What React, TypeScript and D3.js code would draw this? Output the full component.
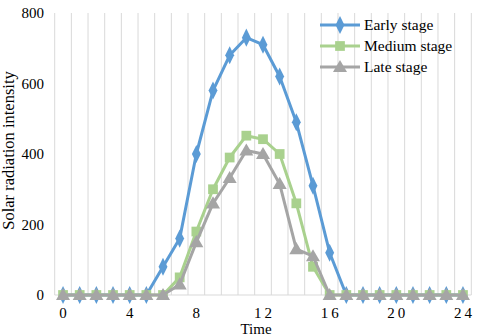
import React from "react";
import * as d3 from "d3";

const hours = d3.range(0, 25);
const xTickLabels = ["0", "4", "8", "12", "16", "20", "24"];
const xTickValues = [0, 4, 8, 12, 16, 20, 24];
const yTicks = [0, 200, 400, 600, 800];

const earlyStage = [0, 0, 0, 0, 0, 0, 80, 160, 400, 580, 680, 730, 710, 620, 490, 310, 120, 0, 0, 0, 0, 0, 0, 0, 0];
const mediumStage = [0, 0, 0, 0, 0, 0, 0, 50, 180, 300, 390, 452, 442, 400, 260, 80, 0, 0, 0, 0, 0, 0, 0, 0, 0];
const lateStage = [0, 0, 0, 0, 0, 0, 0, 30, 150, 260, 332, 410, 400, 315, 130, 110, 0, 0, 0, 0, 0, 0, 0, 0, 0];

const seriesNames = ["Early stage", "Medium stage", "Late stage"];
const seriesColors = ["#5B9BD5", "#A9D18E", "#A5A5A5"];
const seriesData = [earlyStage, mediumStage, lateStage];
const seriesSymbols = [d3.symbolDiamond, d3.symbolSquare, d3.symbolTriangle];

const W = 480, H = 336;
const left = 54.7, right = 471.3, top = 13, bottom = 295;
const FONT = "Liberation Serif";

function Marker({ type, x, y, color }: { type: number; x: number; y: number; color: string }) {
  const sym = seriesSymbols[type];
  const sizes = [95, 95, 85];
  const sx = type === 0 ? 0.85 : 1;
  const path = d3.symbol().type(sym).size(sizes[type])() as string;
  const dy = type === 2 ? 1 : 0;
  return <path d={path} transform={`translate(${x},${y + dy}) scale(${sx},1)`} fill={color} />;
}

export default function App() {
  const x = d3.scaleBand<number>().domain(hours).range([left, right]);
  const cx = (h: number) => (x(h) as number) + x.bandwidth() / 2;
  const y = d3.scaleLinear().domain([0, 800]).range([bottom, top]);
  const gridXs = d3.range(0, 26).map((i) => left + i * x.step());

  return (
    <svg width={W} height={H} style={{ position: "absolute", left: 0, top: 0, background: "#fff" }}>
      {gridXs.map((gx, i) => (
        <line key={i} x1={gx} x2={gx} y1={top} y2={bottom} stroke="#D9D9D9" strokeWidth={1} />
      ))}
      <line x1={left} x2={right} y1={bottom} y2={bottom} stroke="#D9D9D9" strokeWidth={1} />
      {yTicks.map((t) => (
        <text key={t} x={44} y={y(t)} dy="0.35em" textAnchor="end" fontFamily={FONT} fontSize={15} fill="#000">
          {t}
        </text>
      ))}
      {xTickValues.map((t, i) => (
        <text key={t} x={cx(t) + (t >= 10 ? 1.5 : 0)} y={318} textAnchor="middle" letterSpacing={t >= 10 ? 3 : 0} fontFamily={FONT} fontSize={15} fill="#000">
          {xTickLabels[i]}
        </text>
      ))}
      <text x={256} y={334} textAnchor="middle" fontFamily={FONT} fontSize={15} fill="#000">Time</text>
      <text transform={`translate(14,150.5) rotate(-90)`} textAnchor="middle" fontFamily={FONT} fontSize={16.5} fill="#000">
        Solar radiation intensity
      </text>
      {seriesData.map((data, si) => {
        const line = d3.line<number>().x((_, i) => cx(hours[i])).y((d) => y(d));
        return (
          <g key={si}>
            <path d={line(data) as string} fill="none" stroke={seriesColors[si]} strokeWidth={3} strokeLinejoin="round" />
            {data.map((d, i) => (
              <Marker key={i} type={si} x={cx(hours[i])} y={y(d)} color={seriesColors[si]} />
            ))}
          </g>
        );
      })}
      {seriesNames.map((name, si) => {
        const ly = 25 + si * 21;
        return (
          <g key={name}>
            <line x1={320} x2={360} y1={ly} y2={ly} stroke={seriesColors[si]} strokeWidth={3} />
            <Marker type={si} x={340} y={ly} color={seriesColors[si]} />
            <text x={364} y={ly} dy="0.32em" fontFamily={FONT} fontSize={15.5} fill="#000">{name}</text>
          </g>
        );
      })}
    </svg>
  );
}
